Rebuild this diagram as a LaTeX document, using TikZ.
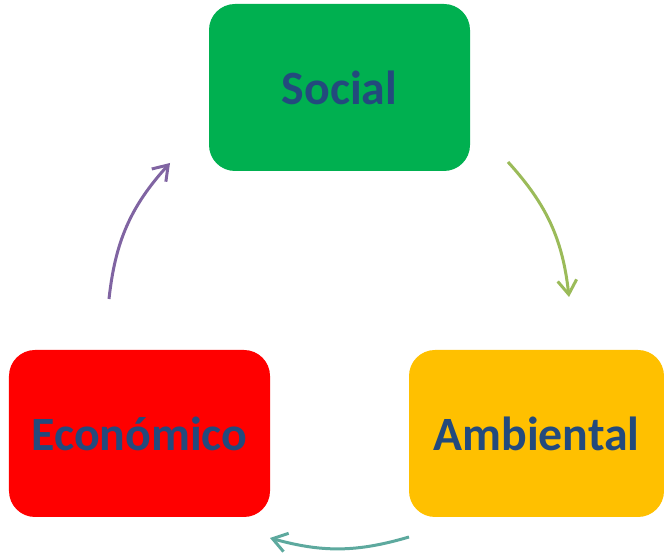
\documentclass[tikz,border=0pt]{standalone}
\usepackage{fontspec}
\setmainfont{Carlito}
\usetikzlibrary{arrows.meta}
\definecolor{txtblue}{HTML}{234A7D}
\definecolor{socgreen}{HTML}{00B050}
\definecolor{ambyellow}{HTML}{FFC000}
\definecolor{ecored}{HTML}{FF0000}
\definecolor{arrgreen}{HTML}{9BBB59}
\definecolor{arrteal}{HTML}{5DA99E}
\definecolor{arrpurple}{HTML}{8064A2}
\begin{document}
\begin{tikzpicture}[x=1bp,y=1bp,
    pillar/.style={rounded corners=26bp, minimum width=261bp, minimum height=167bp,
        inner sep=0pt, text=txtblue, font=\fontsize{48}{56}\selectfont\bfseries},
    cyc/.style={line width=3bp, -{Straight Barb[length=14bp,width=19bp,line width=3bp]}}]
    \useasboundingbox (0,0) rectangle (664,556);
    % the three pillars
    \node[pillar, fill=socgreen] (social) at (339.5,468.5) {Social};
    \node[pillar, fill=ambyellow, minimum width=255bp] (ambiental) at (536.5,122.5) {Ambiental};
    \node[pillar, fill=ecored] (economico) at (139.5,122.5) {Económico};
    % arrow ends
    \coordinate (g1) at (508,394);
    \coordinate (g2) at (569,259);
    \coordinate (t1) at (409,19);
    \coordinate (t2) at (270,18);
    \coordinate (p1) at (109,257);
    \coordinate (p2) at (170,393);
    \draw[cyc, arrgreen] (g1) to[bend left=18] (g2);
    \draw[cyc, arrteal] (t1) to[bend left=16] (t2);
    \draw[cyc, arrpurple] (p1) to[bend left=18] (p2);
\end{tikzpicture}
\end{document}
